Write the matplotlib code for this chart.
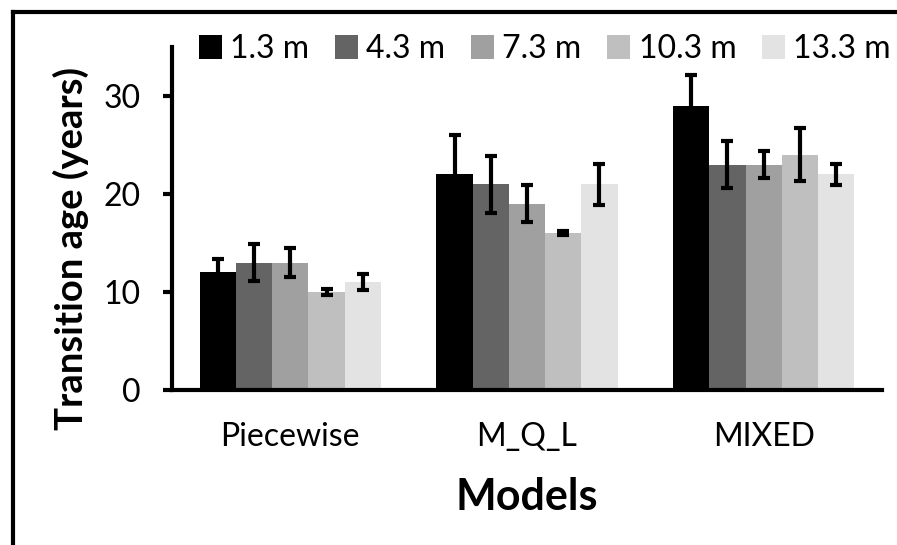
import matplotlib
matplotlib.use("Agg")
import numpy as np
from matplotlib import pyplot as plt
from matplotlib.lines import Line2D

# data
models = ["Piecewise", "M_Q_L", "MIXED"]
heights = ["1.3 m", "4.3 m", "7.3 m", "10.3 m", "13.3 m"]
age_13 = [12, 22, 29]
age_43 = [13, 21, 23]
age_73 = [13, 19, 23]
age_103 = [10, 16, 24]
age_133 = [11, 21, 22]
err_13 = [1.4, 4.0, 3.1]
err_43 = [1.9, 2.9, 2.4]
err_73 = [1.45, 1.9, 1.35]
err_103 = [0.3, 0.2, 2.7]
err_133 = [0.8, 2.1, 1.1]
colors = ["#000000", "#646464", "#a0a0a0", "#bfbfbf", "#e3e3e3"]

values = [age_13, age_43, age_73, age_103, age_133]
errors = [err_13, err_43, err_73, err_103, err_133]

plt.rcParams['font.family'] = ['Lato', 'DejaVu Sans']

fig = plt.figure(figsize=(8.97, 5.45), dpi=100)
ax = fig.add_axes([172/897, 1-390/545, (882-172)/897, (390-47)/545])

x = np.arange(len(models))
w = 0.153
for i in range(len(heights)):
    ax.bar(x + (i-2)*w, values[i], w, color=colors[i], label=heights[i], zorder=2)
for i in range(len(heights)):
    ax.errorbar(x + (i-2)*w, values[i], yerr=errors[i], fmt='none', ecolor='black',
                elinewidth=3, capsize=4.5, capthick=3, zorder=3)

ax.set_xlim(-0.5, 2.5)
ax.set_ylim(0, 35)
ax.set_yticks([0, 10, 20, 30])
ax.set_xticks(x)
ax.set_xticklabels(models)
for s in ['top', 'right']:
    ax.spines[s].set_visible(False)
ax.spines['left'].set_linewidth(3)
ax.spines['bottom'].set_linewidth(3)
ax.tick_params(axis='y', length=6.5, width=3, pad=16, labelsize=23)
ax.tick_params(axis='x', length=0, pad=23, labelsize=23)
ax.set_xlabel("Models", fontsize=31, fontweight='bold', labelpad=18)
fig.text(71/897, 1-248/545, "Transition age (years)", rotation=90, fontsize=27.5,
         fontweight='bold', ha='center', va='center')

fig.legend(loc='center', bbox_to_anchor=(545/897, 1-49/545), ncol=5, frameon=False,
           fontsize=23, handlelength=0.72, handleheight=0.75, handletextpad=0.26,
           columnspacing=0.8, borderpad=0, borderaxespad=0)

# outer frame (left and top only)
fig.add_artist(Line2D([13/897, 13/897], [0, 1-12/545], color='black', lw=3))
fig.add_artist(Line2D([13/897, 1], [1-12/545, 1-12/545], color='black', lw=3))

fig.savefig("out.png", dpi=100)
